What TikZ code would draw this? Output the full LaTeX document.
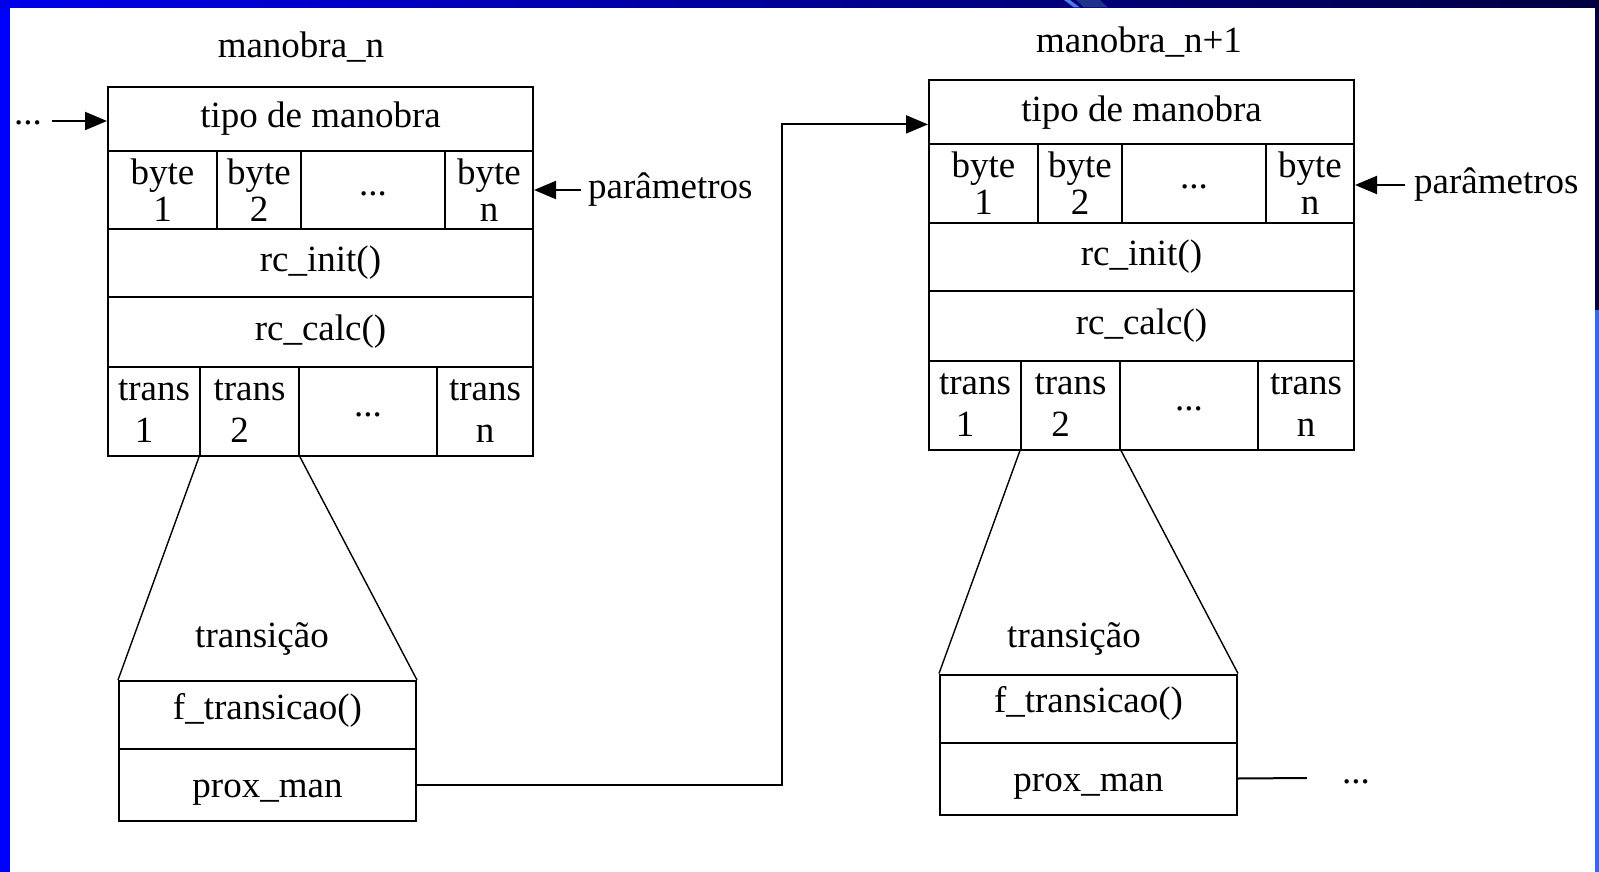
\documentclass[tikz,border=0pt]{standalone}
\usepackage{fontspec}
\setmainfont{Liberation Serif}
\usetikzlibrary{arrows.meta}

\definecolor{edgeblue}{RGB}{0,0,255}
\definecolor{edgenavy}{RGB}{0,0,64}
\definecolor{edgesteel}{RGB}{51,102,255}
\definecolor{edgehint}{RGB}{80,120,235}
\definecolor{edgemid}{RGB}{30,50,140}

\newcommand\cellsize{\fontsize{37}{37}\selectfont}
\newcommand\transsize{\fontsize{37}{42}\selectfont}
\newcommand\lnum[1]{\hspace*{-20pt}#1}

\tikzset{
  plaincell/.style={draw, line width=2pt, inner sep=0pt, anchor=north west,
    font=\cellsize},
  cell/.style={plaincell, align=center},
  tcell/.style={cell, font=\transsize, minimum height=89pt},
  dotcell/.style={plaincell, text height=10pt, text depth=0pt},
  txt/.style={inner sep=0pt, font=\cellsize},
  fanline/.style={line width=1.4pt},
  link/.style={line width=2pt},
  feed/.style={link, -{Triangle[length=22pt,width=18pt]}},
  % one maneuver record: header, parameter bytes, callbacks, transitions
  % and the expanded transition record below it
  manobra/.pic={
    \node[cell, minimum width=425pt, minimum height=64pt] (-tipo) at (0,0) {tipo de manobra};
    \node[cell, minimum width=109pt, minimum height=78pt] (-b1) at (0,64) {byte\\1};
    \node[cell, minimum width=84pt,  minimum height=78pt] (-b2) at (109,64) {byte\\2};
    \node[dotcell, minimum width=144pt, minimum height=78pt] (-bd) at (193,64) {...};
    \node[cell, minimum width=88pt,  minimum height=78pt] (-bn) at (337,64) {byte\\n};
    \node[cell, minimum width=425pt, minimum height=68pt] (-init) at (0,142) {rc\_init()};
    \node[cell, minimum width=425pt, minimum height=70pt] (-calc) at (0,210) {rc\_calc()};
    \node[tcell, minimum width=92pt]  (-t1) at (0,280) {trans\\\lnum{1}};
    \node[tcell, minimum width=99pt]  (-t2) at (92,280) {trans\\\lnum{2}};
    \node[dotcell, minimum width=138pt, minimum height=89pt] (-td) at (191,280) {...};
    \node[tcell, minimum width=96pt]  (-tn) at (329,280) {trans\\n};
    \node[cell, minimum width=297pt, minimum height=68pt,
          text height=25pt, text depth=17pt] (-ft) at (11,594) {f\_transicao()};
    \node[cell, minimum width=297pt, minimum height=72pt,
          text height=28pt, text depth=3pt] (-prox) at (11,662) {prox\_man};
    \draw[fanline] (-t2.south west) -- (-ft.north west);
    \draw[fanline] (-t2.south east) -- (-ft.north east);
  }
}

\begin{document}
\begin{tikzpicture}[x=1pt, y=-1pt]
  \useasboundingbox (0,0) rectangle (1599,872);

  % slide frame
  \fill[white] (0,0) rectangle (1599,872);
  \fill[edgeblue] (0,0) rectangle (10,872);
  \shade[left color=edgeblue!92!black, right color=edgenavy] (0,0) rectangle (1599,7.5);
  \fill[edgemid] (1076,0) -- (1100,0) -- (1108,7.5) -- (1084,7.5) -- cycle;
  \fill[edgehint] (1064,0) -- (1070,0) -- (1080,7.5) -- (1074,7.5) -- cycle;
  \fill[edgenavy] (1595,0) rectangle (1599,310);
  \fill[edgesteel] (1595,310) rectangle (1599,872);

  % the two records
  \pic (L) at (107,86) {manobra};
  \pic (R) at (928,79.5) {manobra};

  % titles
  \node[txt] (L-title) at (301,47) {manobra\_n};
  \node[txt] (R-title) at (1139,42) {manobra\_n+1};
  \node[txt] (L-trtitle) at (262,639) {transição};
  \node[txt] (R-trtitle) at (1074,639) {transição};

  % incoming link into the first record
  \node[txt] (L-prev) at (28,123) {...};
  \draw[feed] ([xshift=10pt,yshift=2pt]L-prev.east)
    -- ([yshift=2pt]L-prev.east -| L-tipo.west);

  % parameter markers
  \node[txt, anchor=west] (L-par) at (588,190) {parâmetros};
  \draw[feed] ([xshift=-7pt]L-par.west) -- (L-par.west -| L-bn.east);
  \node[txt, anchor=west] (R-par) at (1414,185) {parâmetros};
  \draw[feed] ([xshift=-9pt]R-par.west) -- (R-par.west -| R-bn.east);

  % prox_man of the first record points at the next record
  \coordinate (jog) at (782,124.4);
  \draw[feed] (L-prox.east) -| (jog) -- (jog -| R-tipo.west);

  % prox_man of the second record continues onwards
  \node[txt] (R-next) at (1356,782) {...};
  \draw[link] (R-prox.east) -- ([xshift=-35pt,yshift=4pt]R-next.west);
\end{tikzpicture}
\end{document}
